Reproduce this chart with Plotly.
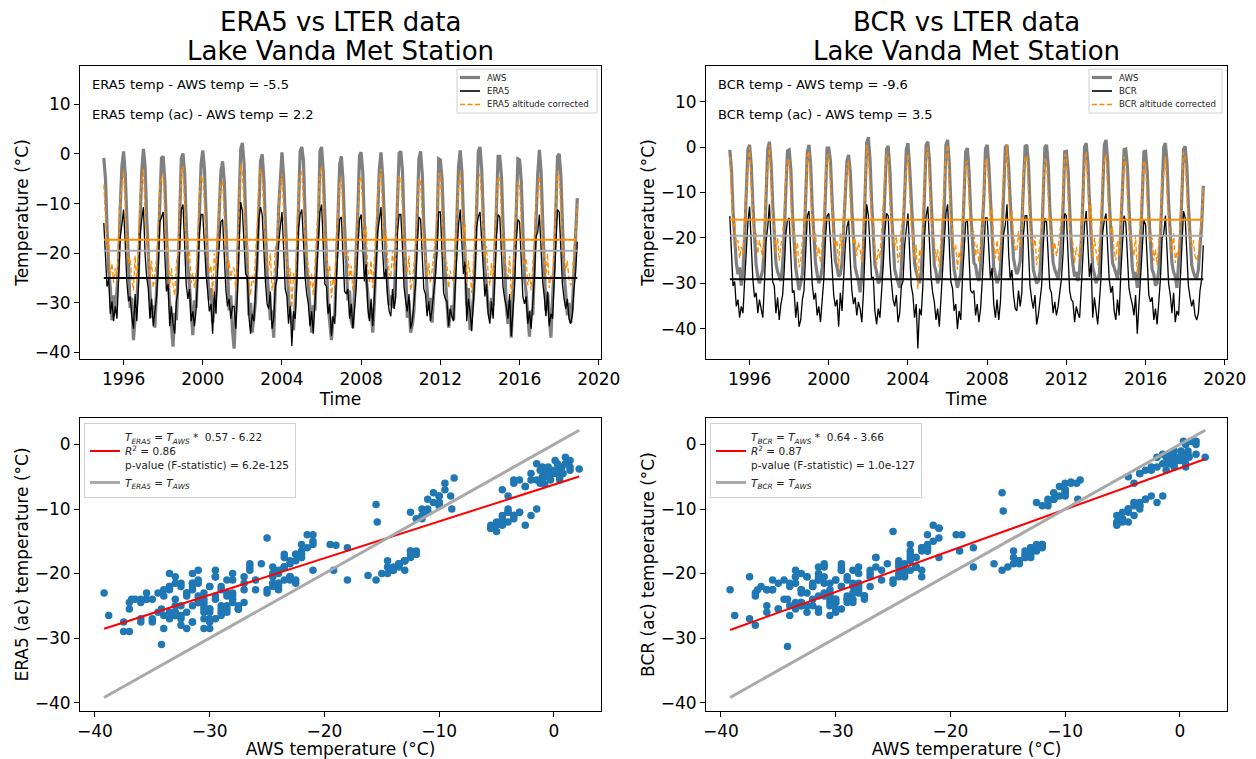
import pandas as pd
import plotly.graph_objects as go

W, H = 1256, 759
FONT = "DejaVu Sans"

# ---------------- data (monthly, Jan 1995 - Dec 2018) ----------------
START_MONTH = "1995-01-01"

# Lake Vanda AWS monthly temperature (deg C) - ERA5 time-series panel and both scatters
AWS = [
    -0.8, -5.0, -14.5, -23.5, -27.0, -33.5, -28.5, -32.0, -27.5, -22.0, -10.5, -2.5,
    0.5, -4.0, -13.0, -24.5, -31.0, -29.0, -37.5, -33.0, -30.0, -23.5, -11.0, -3.5,
    1.0, -2.5, -12.5, -21.0, -27.5, -33.0, -30.5, -35.0, -28.5, -19.5, -9.5, -0.8,
    -0.5, -5.5, -15.0, -25.5, -30.0, -34.5, -38.8, -32.0, -33.5, -24.5, -12.5, -1.0,
    0.1, -4.0, -13.5, -22.5, -26.5, -32.0, -36.5, -29.5, -31.0, -22.5, -10.0, -2.0,
    0.7, -3.0, -12.0, -24.0, -29.5, -27.0, -34.0, -31.5, -28.0, -19.0, -11.5, -3.5,
    -1.5, -5.5, -14.0, -25.0, -31.5, -28.5, -35.5, -39.2, -30.0, -24.5, -10.0, 1.0,
    2.2, -2.0, -12.5, -23.5, -32.5, -30.0, -36.0, -33.0, -29.5, -21.0, -8.7, -1.5,
    -0.1, -5.0, -14.5, -24.0, -28.5, -33.5, -31.5, -37.0, -26.5, -22.0, -11.0, -4.5,
    0.3, -4.5, -13.0, -22.5, -29.0, -32.0, -34.2, -35.5, -30.0, -23.0, -10.5, 0.5,
    1.4, -1.5, -12.0, -23.0, -26.0, -32.5, -36.0, -30.5, -31.5, -21.5, -15.5, 0.5,
    1.4, -3.5, -13.5, -24.5, -30.5, -34.0, -37.5, -33.0, -32.5, -22.5, -10.0, -2.0,
    -0.5, -5.5, -14.5, -23.0, -29.5, -27.5, -33.5, -35.0, -28.0, -19.2, -11.5, -0.3,
    0.3, -4.0, -13.0, -25.0, -28.0, -33.0, -31.0, -36.0, -30.0, -21.0, -10.0, -3.0,
    0.3, -4.5, -12.5, -22.0, -26.0, -30.5, -28.5, -31.0, -29.5, -18.0, -9.0, 0.2,
    0.5, -3.5, -13.5, -24.0, -33.0, -29.5, -36.0, -34.5, -31.5, -23.0, -11.0, -1.0,
    0.5, -4.0, -14.0, -23.0, -27.5, -31.5, -29.0, -34.0, -27.0, -22.0, -15.4, -1.0,
    -1.2, -5.0, -16.2, -24.5, -30.0, -35.0, -32.0, -30.5, -33.5, -23.5, -12.0, -2.5,
    0.7, -3.5, -12.5, -21.5, -30.5, -27.0, -35.5, -32.5, -29.0, -22.0, -9.5, 0.5,
    1.4, -3.0, -12.0, -23.0, -26.5, -31.0, -33.0, -29.0, -30.5, -21.0, -10.0, -0.5,
    -0.5, -4.5, -14.0, -24.0, -30.5, -34.2, -29.5, -37.0, -28.5, -23.5, -11.5, -1.0,
    -1.2, -5.5, -15.5, -25.0, -28.0, -33.0, -36.8, -31.5, -32.5, -22.0, -10.0, -4.0,
    0.8, -3.5, -13.0, -23.5, -31.5, -28.0, -33.5, -37.0, -29.0, -22.5, -11.0, -0.5,
    0.0, -4.5, -13.5, -24.0, -28.0, -32.5, -30.0, -34.0, -31.0, -24.0, -18.0, -8.9,
]

# AWS series as drawn in the BCR time-series panel
AWS_BCR_PANEL = [
    -0.6, -5.0, -14.0, -21.0, -25.5, -28.0, -26.5, -30.5, -27.5, -20.0, -10.0, -0.5,
    0.5, -4.0, -12.5, -21.5, -26.0, -28.5, -30.0, -28.5, -27.0, -21.0, -10.5, -0.5,
    1.2, -3.5, -12.0, -20.0, -25.5, -27.5, -28.5, -29.5, -26.0, -19.5, -9.0, -0.8,
    -0.6, -5.0, -14.5, -22.0, -26.5, -29.0, -31.5, -30.0, -28.0, -21.5, -11.5, -1.0,
    0.5, -4.0, -13.0, -20.5, -25.5, -28.0, -30.0, -29.0, -26.5, -20.5, -9.5, -0.2,
    -0.2, -3.0, -11.5, -20.0, -25.0, -26.5, -28.5, -28.0, -25.5, -18.0, -11.0, -3.0,
    -1.7, -5.5, -13.5, -22.0, -26.5, -28.0, -29.5, -32.0, -28.5, -22.0, -9.5, 1.0,
    2.2, -3.0, -12.0, -21.0, -26.0, -27.5, -30.0, -29.5, -27.0, -19.5, -8.5, -0.5,
    0.3, -5.0, -14.0, -21.5, -27.0, -28.5, -29.5, -31.0, -26.5, -20.0, -10.5, -0.5,
    0.9, -4.5, -12.5, -20.0, -25.5, -27.5, -29.0, -30.0, -27.5, -21.0, -10.0, 0.5,
    1.2, -3.0, -11.5, -20.5, -26.0, -27.5, -30.0, -29.0, -26.5, -19.5, -13.0, 0.5,
    1.6, -3.5, -13.0, -22.0, -27.0, -29.0, -31.0, -29.5, -28.0, -20.5, -9.5, -1.0,
    -0.2, -5.5, -14.0, -20.5, -25.5, -26.0, -28.5, -29.5, -26.5, -18.0, -11.0, -0.3,
    0.5, -4.0, -12.5, -21.0, -26.5, -28.0, -30.0, -29.0, -27.0, -19.5, -9.5, 0.0,
    0.5, -4.5, -12.0, -20.0, -24.5, -26.5, -28.0, -27.0, -25.0, -17.0, -8.5, 0.2,
    0.5, -3.5, -13.0, -21.5, -27.0, -28.5, -30.0, -29.5, -27.5, -21.0, -10.5, 0.0,
    0.5, -4.0, -13.5, -20.5, -25.5, -27.0, -28.0, -29.0, -26.5, -20.0, -13.5, -1.0,
    -0.9, -5.0, -15.0, -22.0, -26.0, -28.5, -27.5, -29.5, -27.0, -21.0, -11.5, 0.0,
    0.9, -3.5, -12.0, -20.0, -26.5, -28.0, -30.0, -29.0, -28.0, -20.0, -9.0, 0.5,
    1.6, -3.0, -11.5, -20.5, -25.5, -26.5, -28.0, -29.0, -26.5, -19.0, -9.5, -0.5,
    -0.4, -4.5, -13.5, -21.5, -26.5, -29.0, -27.5, -31.0, -28.0, -21.0, -11.0, -1.0,
    -0.9, -5.5, -15.0, -22.5, -27.0, -28.0, -30.5, -30.0, -27.0, -20.0, -9.5, 0.0,
    0.9, -3.5, -12.5, -21.0, -25.5, -27.5, -28.5, -31.0, -26.5, -20.5, -10.5, -0.5,
    0.2, -4.5, -13.0, -21.5, -26.0, -27.5, -28.5, -29.0, -27.0, -22.0, -17.0, -8.5,
]

# ERA5 altitude-corrected monthly temperature (deg C)
ERA5_AC = [
    -6.2, -12.0, -19.0, -17.5, -24.5, -22.0, -26.0, -23.0, -25.5, -17.5, -9.0, -6.5,
    -3.5, -10.5, -18.0, -22.0, -21.0, -25.0, -27.5, -20.5, -26.0, -19.0, -8.5, -5.5,
    -3.0, -12.5, -17.0, -19.5, -25.5, -21.5, -27.0, -24.0, -21.0, -15.5, -6.0, -5.0,
    -4.0, -13.0, -20.0, -18.5, -27.0, -23.0, -26.5, -28.5, -22.0, -20.0, -10.5, -3.5,
    -2.5, -10.0, -18.5, -21.5, -19.5, -26.0, -24.0, -27.0, -23.5, -17.0, -8.0, -4.5,
    -4.5, -10.5, -16.5, -20.0, -24.0, -22.5, -28.5, -20.0, -24.5, -15.6, -11.0, -6.0,
    -5.5, -12.5, -19.5, -23.0, -21.5, -25.5, -23.0, -23.0, -27.5, -20.5, -9.5, -2.0,
    -3.8, -11.0, -16.5, -17.0, -25.0, -28.5, -24.5, -26.0, -20.5, -14.0, -5.2, -3.0,
    -4.5, -13.5, -18.0, -22.5, -23.5, -20.0, -27.5, -25.5, -19.0, -17.5, -10.5, -7.0,
    -4.0, -11.5, -19.5, -21.0, -26.5, -23.0, -31.0, -24.0, -25.5, -18.0, -7.5, -4.5,
    -3.5, -10.0, -17.0, -20.5, -22.5, -27.0, -24.0, -28.5, -21.5, -16.0, -9.3, -4.0,
    -2.5, -11.0, -18.5, -19.0, -24.5, -22.5, -29.0, -25.0, -26.5, -17.0, -9.5, -5.5,
    -5.0, -13.0, -20.0, -20.5, -19.5, -25.5, -22.5, -27.5, -24.0, -19.5, -11.5, -5.5,
    -4.5, -10.5, -18.0, -14.5, -23.0, -26.0, -21.5, -27.0, -22.0, -15.0, -8.0, -5.5,
    -3.0, -12.0, -17.5, -15.5, -21.0, -24.0, -25.0, -19.5, -23.5, -21.0, -8.0, -4.5,
    -4.5, -11.0, -19.0, -22.0, -24.0, -20.5, -27.5, -26.0, -22.5, -18.5, -10.5, -5.0,
    -5.5, -12.0, -19.5, -20.5, -25.0, -22.0, -26.0, -23.5, -20.5, -17.0, -12.0, -4.0,
    -4.0, -12.5, -20.3, -21.5, -22.0, -27.0, -23.5, -25.0, -26.0, -19.0, -11.5, -6.5,
    -3.5, -11.0, -16.5, -14.0, -26.0, -21.5, -24.0, -28.0, -22.5, -16.5, -7.0, -5.0,
    -4.0, -10.5, -17.0, -21.0, -18.5, -24.5, -26.5, -22.0, -25.5, -15.5, -9.0, -4.5,
    -5.0, -12.5, -19.0, -21.5, -23.0, -25.5, -20.5, -29.0, -23.0, -19.0, -10.0, -5.5,
    -6.0, -13.0, -21.0, -22.5, -21.0, -26.5, -24.0, -27.5, -22.0, -17.0, -9.0, -8.0,
    -4.5, -11.5, -18.0, -21.0, -25.0, -20.0, -27.0, -24.5, -25.5, -18.0, -10.0, -3.5,
    -4.0, -11.0, -18.5, -21.5, -23.5, -21.5, -25.5, -26.5, -24.5, -19.5, -16.0, -10.0,
]

# BCR altitude-corrected monthly temperature (deg C)
BCR_AC = [
    -2.1, -10.5, -17.5, -16.5, -22.0, -20.5, -24.5, -22.0, -23.5, -16.5, -8.0, -3.5,
    0.0, -9.0, -16.0, -20.0, -19.0, -23.5, -20.5, -22.5, -24.5, -17.0, -7.5, -4.5,
    0.5, -8.0, -16.5, -17.5, -23.5, -20.0, -25.0, -21.5, -19.5, -14.0, -6.0, -3.0,
    -2.5, -11.0, -19.0, -18.5, -24.5, -21.0, -26.5, -25.0, -20.5, -18.5, -9.0, -2.0,
    -1.0, -9.5, -17.0, -20.5, -19.0, -24.0, -22.0, -25.5, -21.5, -16.0, -7.0, -2.0,
    -1.5, -8.5, -15.5, -19.5, -22.0, -20.5, -26.5, -19.0, -23.0, -14.0, -8.5, -4.5,
    -3.0, -12.0, -18.5, -21.5, -20.0, -24.0, -21.0, -22.5, -25.5, -19.0, -7.5, 0.5,
    -2.0, -9.0, -16.0, -15.5, -23.0, -26.0, -22.5, -24.5, -19.0, -13.0, -5.5, -1.5,
    -2.0, -12.0, -16.5, -20.5, -22.0, -19.5, -25.5, -23.5, -17.5, -16.5, -8.5, -5.0,
    -1.5, -10.0, -17.5, -19.5, -24.5, -21.5, -31.3, -22.5, -24.0, -17.5, -6.5, -2.0,
    0.0, -8.0, -15.5, -19.0, -21.0, -25.0, -22.5, -26.5, -20.5, -15.0, -7.5, -1.5,
    0.5, -9.5, -16.5, -18.0, -23.0, -21.5, -27.0, -23.0, -25.0, -16.0, -8.0, -3.5,
    -3.0, -12.5, -18.5, -19.0, -18.5, -24.0, -21.5, -25.5, -22.5, -16.5, -9.5, -2.5,
    -2.5, -9.0, -16.0, -13.5, -21.5, -24.5, -20.5, -25.0, -21.0, -13.0, -6.0, -4.0,
    0.5, -10.5, -16.0, -14.0, -19.5, -22.5, -23.0, -18.5, -22.0, -19.0, -6.0, -2.0,
    -2.0, -9.5, -17.5, -20.5, -22.5, -19.5, -26.0, -24.0, -21.0, -17.5, -8.5, -2.5,
    -3.5, -11.0, -18.0, -19.0, -23.5, -21.0, -24.0, -22.0, -19.5, -16.0, -10.3, -1.5,
    -2.0, -11.5, -18.5, -20.5, -21.0, -25.5, -22.0, -23.5, -24.5, -18.0, -9.5, -4.0,
    -1.0, -9.0, -15.5, -12.5, -24.5, -20.0, -22.5, -26.0, -21.0, -15.5, -5.8, -3.0,
    -1.5, -8.5, -16.0, -19.0, -17.5, -23.0, -25.0, -20.5, -24.0, -14.5, -7.5, -2.0,
    -3.5, -12.0, -18.0, -20.0, -21.5, -24.0, -19.5, -28.0, -21.5, -17.5, -9.0, -3.0,
    -4.0, -12.3, -19.5, -21.0, -20.0, -25.0, -22.5, -26.0, -20.5, -16.0, -7.0, -6.0,
    -2.0, -10.0, -17.0, -19.5, -23.5, -19.0, -25.5, -23.0, -24.0, -16.5, -8.5, -1.0,
    -2.5, -10.0, -17.5, -20.0, -22.0, -20.5, -24.0, -25.0, -23.5, -18.5, -16.0, -8.5,
]

# summary numbers printed on the chart
ERA5_MINUS_AWS = -5.5
ERA5_AC_MINUS_AWS = 2.2
BCR_MINUS_AWS = -9.6
BCR_AC_MINUS_AWS = 3.5
AWS_MEAN = -19.5

ERA5_FIT = {"slope": 0.57, "intercept": -6.22, "r2": 0.86, "p": "6.2e-125"}
BCR_FIT = {"slope": 0.64, "intercept": -3.66, "r2": 0.87, "p": "1.0e-127"}

YEAR_TICKS = [1996, 2000, 2004, 2008, 2012, 2016, 2020]
TEMP_TICKS_TOP = [-40, -30, -20, -10, 0, 10]
TEMP_TICKS_SCATTER = [-40, -30, -20, -10, 0]

# altitude correction offsets (difference between corrected and raw reanalysis)
ERA5_ALTITUDE_CORRECTION = ERA5_AC_MINUS_AWS - ERA5_MINUS_AWS
BCR_ALTITUDE_CORRECTION = BCR_AC_MINUS_AWS - BCR_MINUS_AWS
ERA5 = [v - ERA5_ALTITUDE_CORRECTION for v in ERA5_AC]
BCR = [v - BCR_ALTITUDE_CORRECTION for v in BCR_AC]

dates = pd.date_range(START_MONTH, periods=len(AWS), freq="MS")

# ---------------- layout geometry ----------------
XL = [80 / W, 601 / W]
XR = [706 / W, 1227 / W]
YT = [1 - 359 / H, 1 - 66 / H]
YB = [1 - 711 / H, 1 - 418 / H]

ORANGE = "#ff8c00"
GREY = "#808080"
DGREY = "#a9a9a9"
AWS_W = 3.2
RAW_W = 1.3
AC_DASH = "5px,2.5px"

fig = go.Figure()


def time_panel(xa, ya, aws, raw, ac, raw_minus, ac_minus):
    fig.add_trace(go.Scatter(x=dates, y=aws, mode="lines", line=dict(color=GREY, width=AWS_W),
                             showlegend=False, xaxis=xa, yaxis=ya))
    fig.add_trace(go.Scatter(x=dates, y=raw, mode="lines", line=dict(color="black", width=RAW_W),
                             showlegend=False, xaxis=xa, yaxis=ya))
    fig.add_trace(go.Scatter(x=dates, y=ac, mode="lines",
                             line=dict(color=ORANGE, width=RAW_W, dash=AC_DASH),
                             showlegend=False, xaxis=xa, yaxis=ya))
    ends = [dates[0], dates[-1]]
    for val, col in [(AWS_MEAN + ac_minus, ORANGE), (AWS_MEAN, DGREY),
                     (AWS_MEAN + raw_minus, "black")]:
        fig.add_trace(go.Scatter(x=ends, y=[val, val], mode="lines",
                                 line=dict(color=col, width=2),
                                 showlegend=False, hoverinfo="skip",
                                 xaxis=xa, yaxis=ya))


time_panel("x", "y", AWS, ERA5, ERA5_AC, ERA5_MINUS_AWS, ERA5_AC_MINUS_AWS)
time_panel("x2", "y2", AWS_BCR_PANEL, BCR, BCR_AC, BCR_MINUS_AWS, BCR_AC_MINUS_AWS)


def scatter_panel(xa, ya, leg, yvals, tag, fit):
    fig.add_trace(go.Scatter(x=AWS, y=yvals, mode="markers",
                             marker=dict(color="#1f77b4", size=7.5),
                             showlegend=False, xaxis=xa, yaxis=ya))
    xs = [min(AWS), max(AWS)]
    fit_name = (f"<i>T</i><sub><i>{tag}</i></sub> = <i>T</i><sub><i>AWS</i></sub> * "
                f" {fit['slope']:.2f} - {abs(fit['intercept']):.2f}"
                f"<br><i>R</i><sup>2</sup> = {fit['r2']:.2f}"
                f"<br>p-value (F-statistic) = {fit['p']}")
    fig.add_trace(go.Scatter(x=xs, y=[fit["slope"] * v + fit["intercept"] for v in xs],
                             mode="lines", line=dict(color="red", width=2),
                             name=fit_name, xaxis=xa, yaxis=ya, legend=leg))
    fig.add_trace(go.Scatter(x=xs, y=xs, mode="lines", line=dict(color=DGREY, width=3),
                             name=f"<i>T</i><sub><i>{tag}</i></sub> = <i>T</i><sub><i>AWS</i></sub>",
                             xaxis=xa, yaxis=ya, legend=leg))


scatter_panel("x3", "y3", "legend", ERA5_AC, "ERA5", ERA5_FIT)
scatter_panel("x4", "y4", "legend2", BCR_AC, "BCR", BCR_FIT)

# ---------------- axes ----------------
TICKFONT = dict(family=FONT, size=17, color="black")
TITLEFONT = dict(family=FONT, size=17, color="black")


def axis(**kw):
    base = dict(showline=True, linecolor="black", linewidth=1, mirror=True,
                ticks="outside", ticklen=5, tickwidth=1, tickcolor="black",
                showgrid=False, zeroline=False, tickfont=TICKFONT, automargin=False)
    base.update(kw)
    return base


date_ticks = [f"{y}-01-01" for y in YEAR_TICKS]
date_range = ["1993-10-19", "2020-02-11"]
Y_STANDOFF = 1
X_STANDOFF = 0

fig.update_layout(
    xaxis=axis(domain=XL, anchor="y", type="date", range=date_range,
               tickvals=date_ticks, ticktext=[str(y) for y in YEAR_TICKS],
               title=dict(text="Time", font=TITLEFONT, standoff=X_STANDOFF)),
    yaxis=axis(domain=YT, anchor="x", range=[-41.3, 17.7], tickvals=TEMP_TICKS_TOP,
               title=dict(text="Temperature (°C)", font=TITLEFONT, standoff=Y_STANDOFF)),
    xaxis2=axis(domain=XR, anchor="y2", type="date", range=date_range,
                tickvals=date_ticks, ticktext=[str(y) for y in YEAR_TICKS],
                title=dict(text="Time", font=TITLEFONT, standoff=X_STANDOFF)),
    yaxis2=axis(domain=YT, anchor="x2", range=[-46.7, 17.9], tickvals=TEMP_TICKS_TOP,
                title=dict(text="Temperature (°C)", font=TITLEFONT, standoff=Y_STANDOFF)),
    xaxis3=axis(domain=XL, anchor="y3", range=[-41.3, 4.1], tickvals=TEMP_TICKS_SCATTER,
                title=dict(text="AWS temperature (°C)", font=TITLEFONT, standoff=X_STANDOFF)),
    yaxis3=axis(domain=YB, anchor="x3", range=[-41.3, 4.1], tickvals=TEMP_TICKS_SCATTER,
                title=dict(text="ERA5 (ac) temperature (°C)", font=TITLEFONT, standoff=Y_STANDOFF)),
    xaxis4=axis(domain=XR, anchor="y4", range=[-41.3, 4.1], tickvals=TEMP_TICKS_SCATTER,
                title=dict(text="AWS temperature (°C)", font=TITLEFONT, standoff=X_STANDOFF)),
    yaxis4=axis(domain=YB, anchor="x4", range=[-41.3, 4.1], tickvals=TEMP_TICKS_SCATTER,
                title=dict(text="BCR (ac) temperature (°C)", font=TITLEFONT, standoff=Y_STANDOFF)),
)

# ---------------- scatter legends (native) ----------------
leg_bot = dict(yanchor="top", xanchor="left", bgcolor="rgba(255,255,255,0.85)",
               bordercolor="#d0d0d0", borderwidth=1, tracegroupgap=0,
               font=dict(family=FONT, size=10.5, color="#222"), itemwidth=30)
fig.update_layout(
    legend=dict(x=84 / W, y=1 - 423 / H, **leg_bot),
    legend2=dict(x=710 / W, y=1 - 423 / H, **leg_bot),
)

# ---------------- compact time-series legends (box, handles, labels) ----------------
shapes = []
ann = []


def px(x):
    return x / W


def py(y):
    return 1 - y / H


def small_legend(x0, x1, tag):
    shapes.append(dict(type="rect", xref="paper", yref="paper", layer="above",
                       x0=px(x0), x1=px(x1), y0=py(113), y1=py(69),
                       line=dict(color="#d0d0d0", width=1),
                       fillcolor="rgba(255,255,255,0.85)"))
    rows = [("AWS", dict(color=GREY, width=AWS_W)),
            (tag, dict(color="black", width=1.6)),
            (tag + " altitude corrected", dict(color=ORANGE, width=RAW_W, dash=AC_DASH))]
    for i, (label, ln) in enumerate(rows):
        yy = 77.5 + 13.5 * i
        shapes.append(dict(type="line", xref="paper", yref="paper", layer="above",
                           x0=px(x0 + 3), x1=px(x0 + 23), y0=py(yy), y1=py(yy), line=ln))
        ann.append(dict(x=px(x0 + 28), y=py(yy), xref="paper", yref="paper",
                        showarrow=False, text=label, xanchor="left", yanchor="middle",
                        font=dict(family=FONT, size=8.6, color="#222")))


small_legend(457, 597, "ERA5")
small_legend(1089, 1222, "BCR")

# ---------------- texts ----------------
for cx, name in [((XL[0] + XL[1]) / 2, "ERA5"), ((XR[0] + XR[1]) / 2, "BCR")]:
    ann.append(dict(x=cx, y=py(22), xref="paper", yref="paper", showarrow=False,
                    text=f"{name} vs LTER data", xanchor="center", yanchor="middle",
                    font=dict(family=FONT, size=26, color="black")))
    ann.append(dict(x=cx, y=py(51), xref="paper", yref="paper", showarrow=False,
                    text="Lake Vanda Met Station", xanchor="center", yanchor="middle",
                    font=dict(family=FONT, size=26, color="black")))
for x0, name, d_raw, d_ac in [(90, "ERA5", ERA5_MINUS_AWS, ERA5_AC_MINUS_AWS),
                              (716, "BCR", BCR_MINUS_AWS, BCR_AC_MINUS_AWS)]:
    ann.append(dict(x=px(x0), y=py(85), xref="paper", yref="paper", showarrow=False,
                    text=f"{name} temp - AWS temp = {d_raw}", xanchor="left",
                    yanchor="middle", font=dict(family=FONT, size=13, color="black")))
    ann.append(dict(x=px(x0), y=py(114), xref="paper", yref="paper", showarrow=False,
                    text=f"{name} temp (ac) - AWS temp = {d_ac}", xanchor="left",
                    yanchor="middle", font=dict(family=FONT, size=13, color="black")))

fig.update_layout(
    annotations=ann,
    shapes=shapes,
    width=W, height=H,
    margin=dict(l=0, r=0, t=0, b=0),
    paper_bgcolor="white", plot_bgcolor="white",
    font=dict(family=FONT, color="black"),
    hovermode=False,
)

fig.write_html("out.html")
